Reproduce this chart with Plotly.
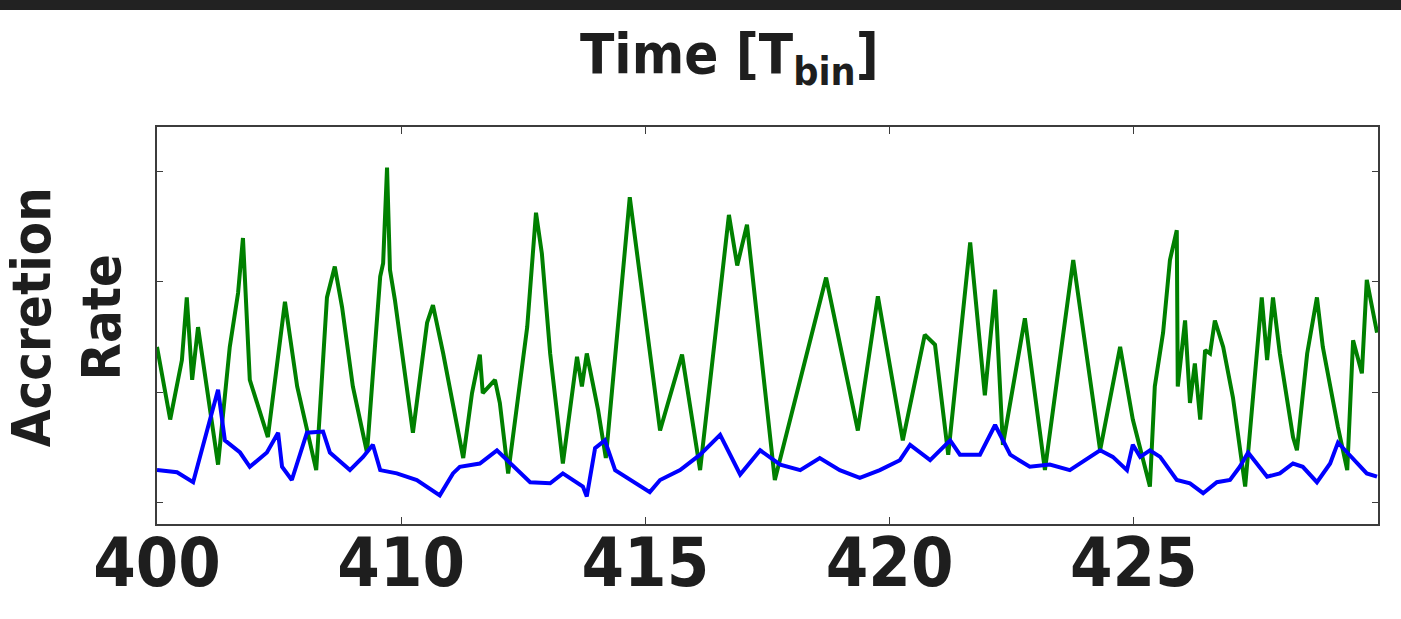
import plotly.graph_objects as go

# ---- data ----
green_t = [405.00, 405.27, 405.51, 405.61, 405.72, 405.84, 406.25, 406.49, 406.66, 406.76,
           406.90, 407.27, 407.62, 407.87, 408.26, 408.48, 408.64, 408.79, 409.01, 409.30,
           409.57, 409.63, 409.71, 409.77, 409.87, 410.24, 410.53, 410.65, 410.86, 411.27,
           411.45, 411.61, 411.67, 411.92, 412.02, 412.19, 412.58, 412.76, 412.88, 413.05,
           413.31, 413.60, 413.70, 413.80, 414.03, 414.19, 414.68, 415.30, 415.75, 416.12,
           416.71, 416.88, 417.08, 417.65, 418.70, 419.35, 419.76, 420.27, 420.72, 420.93,
           421.20, 421.65, 421.95, 422.16, 422.32, 422.77, 423.18, 423.76, 424.31, 424.57,
           424.72, 424.98, 425.33, 425.43, 425.60, 425.74, 425.88, 425.90, 426.05, 426.15,
           426.25, 426.36, 426.46, 426.56, 426.66, 426.83, 427.03, 427.28, 427.48, 427.62,
           427.73, 427.85, 427.99, 428.26, 428.34, 428.55, 428.75, 428.87, 429.18, 429.37,
           429.49, 429.67, 429.77, 429.98]
green_rate = [1.41, 0.75, 1.29, 1.86, 1.11, 1.59, 0.34, 1.41, 1.90, 2.40,
              1.11, 0.59, 1.82, 1.05, 0.29, 1.86, 2.14, 1.77, 1.05, 0.45,
              2.05, 2.17, 3.04, 2.11, 1.84, 0.63, 1.63, 1.79, 1.35, 0.40,
              0.99, 1.34, 0.99, 1.11, 0.90, 0.26, 1.59, 2.63, 2.26, 1.35,
              0.35, 1.32, 1.05, 1.35, 0.84, 0.40, 2.77, 0.65, 1.34, 0.29,
              2.61, 2.15, 2.52, 0.20, 2.04, 0.65, 1.87, 0.56, 1.52, 1.43,
              0.43, 2.36, 0.97, 1.93, 0.52, 1.67, 0.29, 2.20, 0.47, 1.05,
              1.41, 0.75, 0.14, 1.05, 1.54, 2.20, 2.47, 1.05, 1.65, 0.90,
              1.26, 0.75, 1.38, 1.35, 1.65, 1.41, 0.95, 0.14, 1.17, 1.86,
              1.29, 1.86, 1.35, 0.59, 0.47, 1.35, 1.86, 1.41, 0.68, 0.29,
              1.47, 1.17, 2.02, 1.54]

blue_t = [405.00, 405.41, 405.74, 406.02, 406.25, 406.39, 406.70, 406.90, 407.25, 407.48,
          407.56, 407.76, 408.07, 408.40, 408.54, 408.95, 409.22, 409.42, 409.57, 409.91,
          410.32, 410.79, 411.06, 411.20, 411.61, 411.96, 412.23, 412.64, 413.05, 413.31,
          413.72, 413.80, 413.97, 414.17, 414.38, 414.89, 415.09, 415.30, 415.71, 416.12,
          416.53, 416.94, 417.35, 417.76, 418.17, 418.57, 418.98, 419.39, 419.80, 420.21,
          420.42, 420.83, 421.24, 421.44, 421.85, 422.16, 422.47, 422.87, 423.28, 423.69,
          424.10, 424.31, 424.57, 424.86, 424.98, 425.13, 425.33, 425.54, 425.88, 426.15,
          426.42, 426.70, 426.97, 427.17, 427.34, 427.52, 427.73, 427.99, 428.26, 428.46,
          428.75, 429.02, 429.18, 429.37, 429.57, 429.77, 429.98]
blue_rate = [0.29, 0.27, 0.18, 0.63, 1.02, 0.56, 0.45, 0.32, 0.45, 0.63,
             0.32, 0.20, 0.63, 0.64, 0.45, 0.29, 0.41, 0.52, 0.29, 0.26,
             0.20, 0.06, 0.26, 0.32, 0.35, 0.47, 0.35, 0.18, 0.17, 0.26,
             0.14, 0.05, 0.49, 0.56, 0.29, 0.15, 0.09, 0.20, 0.29, 0.43,
             0.61, 0.25, 0.47, 0.34, 0.29, 0.40, 0.29, 0.22, 0.29, 0.38,
             0.52, 0.38, 0.56, 0.43, 0.43, 0.70, 0.43, 0.32, 0.34, 0.29,
             0.41, 0.47, 0.41, 0.29, 0.52, 0.41, 0.47, 0.41, 0.20, 0.17,
             0.08, 0.18, 0.20, 0.32, 0.45, 0.35, 0.23, 0.26, 0.35, 0.32,
             0.18, 0.35, 0.54, 0.45, 0.35, 0.26, 0.23]

x_tickvals = [405, 410, 415, 420, 425]
x_ticktext = ["400", "410", "415", "420", "425"]
y_tickvals = [0, 1, 2, 3]

COND = "DejaVu Sans Condensed, Liberation Sans Narrow, Roboto Condensed, sans-serif"
FRAME = "#3c3c3c"
INK = "#1e1e1e"

fig = go.Figure()
fig.add_trace(go.Scatter(x=green_t, y=green_rate, mode="lines",
                         line=dict(color="#008000", width=4), showlegend=False))
fig.add_trace(go.Scatter(x=blue_t, y=blue_rate, mode="lines",
                         line=dict(color="#0000ff", width=4), showlegend=False))

fig.update_layout(
    width=1401, height=619,
    margin=dict(l=157, r=23, t=127, b=95, autoexpand=False),
    paper_bgcolor="white", plot_bgcolor="white",
    showlegend=False,
    xaxis=dict(range=[405, 430], tickvals=x_tickvals, ticktext=x_ticktext,
               ticks="inside", ticklen=7, tickwidth=1, tickcolor=FRAME,
               showline=True, linecolor=FRAME, linewidth=2, mirror="ticks",
               showgrid=False, zeroline=False, automargin=False,
               tickfont=dict(family=COND, size=68, color=INK, weight="bold"),
               ticklabelstandoff=-22),
    yaxis=dict(range=[-0.2, 3.409], tickvals=y_tickvals, showticklabels=False,
               ticks="inside", ticklen=6, tickwidth=1, tickcolor=FRAME,
               showline=True, linecolor=FRAME, linewidth=2, mirror="ticks",
               showgrid=False, zeroline=False, automargin=False),
    shapes=[dict(type="rect", xref="paper", yref="paper", x0=-0.2, x1=1.1,
                 y0=1.2947, y1=1.5, fillcolor="#222222", line=dict(width=0), layer="above")],
    annotations=[
        dict(text="Time [T<sub>bin</sub>]", xref="paper", yref="paper",
             x=0.469, y=1.176, xanchor="center", yanchor="middle", showarrow=False,
             font=dict(family=COND, size=56, color=INK, weight="bold")),
        dict(text="Accretion<br>Rate", xref="paper", yref="paper",
             x=-0.074, y=0.52, xanchor="center", yanchor="middle", showarrow=False,
             textangle=-90, font=dict(family=COND, size=54, color=INK, weight="bold")),
    ],
)

fig.write_html("out.html")
